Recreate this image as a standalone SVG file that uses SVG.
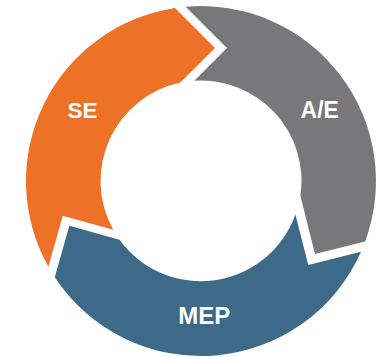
<svg xmlns="http://www.w3.org/2000/svg" width="376" height="357" viewBox="0 0 376 357">
  <style>
    .lbl { font-family: "Liberation Sans", Arial, sans-serif; font-weight: bold; font-size: 23px; fill: #ffffff; text-anchor: middle; }
  </style>
  <rect width="376" height="357" fill="#ffffff"/>
  <g id="connectors"/>
  <g id="node-se">
    <path d="M 48.4,266.7 A 175 175 0 0 1 175,8 L 215,48 L 180.4,82.6 A 100.5 100.5 0 0 0 113.2,229.8 L 62.7,215.7 Z" fill="#ED7126"/>
    <text class="lbl" x="82.5" y="117.8" style="font-size:22.5px">SE</text>
  </g>
  <g id="node-ae">
    <path d="M 185.7,6.7 A 175 175 0 0 1 365.2,241.4 L 315,254 L 300.4,195.7 A 100.5 100.5 0 0 0 194.3,80.7 L 227,48 Z" fill="#78787A"/>
    <text class="lbl" x="319.7" y="118">A/E</text>
  </g>
  <g id="node-mep">
    <path d="M 361,251.8 A 175 175 0 0 1 54.8,277.3 L 69.3,225.7 L 119.5,239.8 A 100.5 100.5 0 0 0 295.4,214.6 L 308.3,265 Z" fill="#3E6A8A"/>
    <text class="lbl" x="204.3" y="324" style="font-size:24px">MEP</text>
  </g>
</svg>
